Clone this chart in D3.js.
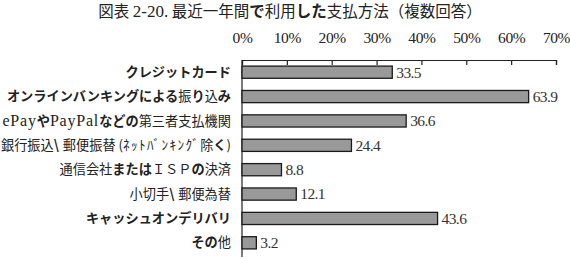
<!DOCTYPE html>
<html lang="ja">
<head>
<meta charset="utf-8">
<title>図表 2-20</title>
<script src="https://cdn.jsdelivr.net/npm/d3@7"></script>
<style>
  body { margin: 0; background: #fff; }
  svg { display: block; }
</style>
</head>
<body>
<script>
// data
var title = "図表 2-20. 最近一年間で利用した支払方法（複数回答）";
var categories = [
  "クレジットカード",
  "オンラインバンキングによる振り込み",
  "ePayやPayPalなどの第三者支払機関",
  "銀行振込\\郵便振替 (ﾈｯﾄﾊﾞﾝｷﾝｸﾞ除く)",
  "通信会社またはＩＳＰの決済",
  "小切手\\郵便為替",
  "キャッシュオンデリバリ",
  "その他"
];
var values = [33.5, 63.9, 36.6, 24.4, 8.8, 12.1, 43.6, 3.2];
var tickValues = [0, 10, 20, 30, 40, 50, 60, 70];

var W = 570, H = 259;
var gothic = "'Noto Sans CJK JP', 'Noto Sans', sans-serif";
var serif = "'Liberation Serif', 'DejaVu Serif', serif";

var svg = d3.select("body").append("svg")
  .attr("width", W)
  .attr("height", H);

var x = d3.scaleLinear().domain([0, 70]).range([242, 556]);
var y = d3.scaleBand().domain(categories).range([60, 255]).paddingInner(0.5).paddingOuter(0.25);

// split a label into runs: kana bold, latin serif, half-width kana spaced, rest plain
function runs(s) {
  var out = [], cur = null;
  for (var ch of s) {
    var k;
    if (/[\u3040-\u30ff]/.test(ch)) k = "bold";
    else if (ch == "\\") k = "slash";
    else if (/[A-Za-z0-9.\-]/.test(ch)) k = "latin";
    else if (/[\uff61-\uff9f]/.test(ch)) k = "half";
    else k = "plain";
    if (cur && cur.k == k) cur.t += ch;
    else { cur = {k: k, t: ch}; out.push(cur); }
  }
  return out;
}

function mixText(sel, s, latinSize, latinSpace) {
  sel.selectAll("tspan").data(runs(s)).enter().append("tspan")
    .text(function(d) { return d.t; })
    .attr("font-family", function(d) { return d.k == "latin" ? serif : gothic; })
    .attr("font-size", function(d) { return d.k == "latin" ? latinSize : null; })
    .attr("letter-spacing", function(d) {
      if (d.k == "half") return 1.4;
      if (d.k == "latin") return latinSpace;
      if (d.k == "slash") return 4;
      return null;
    })
    .attr("font-weight", function(d) { return d.k == "bold" || d.k == "slash" ? 700 : 400; });
}

// title
svg.append("text")
  .attr("x", 290).attr("y", 17)
  .attr("text-anchor", "middle")
  .attr("font-size", 15.5)
  .attr("fill", "#222")
  .call(mixText, title, 17, 0);

// top axis
var axis = d3.axisTop(x)
  .tickValues(tickValues)
  .tickSizeInner(-5)
  .tickSizeOuter(-5)
  .tickPadding(17)
  .tickFormat(function(d) { return d + "%"; });

var gAxis = svg.append("g")
  .attr("transform", "translate(0,60)")
  .call(axis);
gAxis.select(".domain").attr("stroke", "#222").attr("stroke-width", 1.2);
gAxis.selectAll(".tick line").attr("stroke", "#222").attr("stroke-width", 1.2);
gAxis.selectAll(".tick text")
  .attr("font-family", serif)
  .attr("font-size", 15.5)
  .attr("letter-spacing", -0.4)
  .attr("fill", "#222");

// category axis line
svg.append("line")
  .attr("x1", x(0)).attr("x2", x(0))
  .attr("y1", 60).attr("y2", 257)
  .attr("stroke", "#222")
  .attr("stroke-width", 1.2);

// bars
svg.selectAll("rect.bar")
  .data(values)
  .enter().append("rect")
  .attr("class", "bar")
  .attr("x", x(0))
  .attr("y", function(d, i) { return y(categories[i]); })
  .attr("width", function(d) { return x(d) - x(0); })
  .attr("height", y.bandwidth())
  .attr("fill", "#999999")
  .attr("stroke", "#1a1a1a")
  .attr("stroke-width", 1.3);

// value labels
svg.selectAll("text.val")
  .data(values)
  .enter().append("text")
  .attr("class", "val")
  .attr("x", function(d) { return x(d) + 4; })
  .attr("y", function(d, i) { return y(categories[i]) + y.bandwidth() / 2; })
  .attr("dy", "0.35em")
  .attr("font-family", serif)
  .attr("font-size", 15.5)
  .attr("letter-spacing", -0.6)
  .attr("fill", "#333")
  .text(function(d) { return d.toFixed(1); });

// category labels
svg.selectAll("text.cat")
  .data(categories)
  .enter().append("text")
  .attr("class", "cat")
  .attr("x", 231)
  .attr("y", function(d) { return y(d) + y.bandwidth() / 2; })
  .attr("dy", "0.35em")
  .attr("text-anchor", "end")
  .attr("font-size", 13.2)
  .attr("fill", "#222")
  .each(function(d) { d3.select(this).call(mixText, d, 16, 0.8); });
</script>
</body>
</html>
